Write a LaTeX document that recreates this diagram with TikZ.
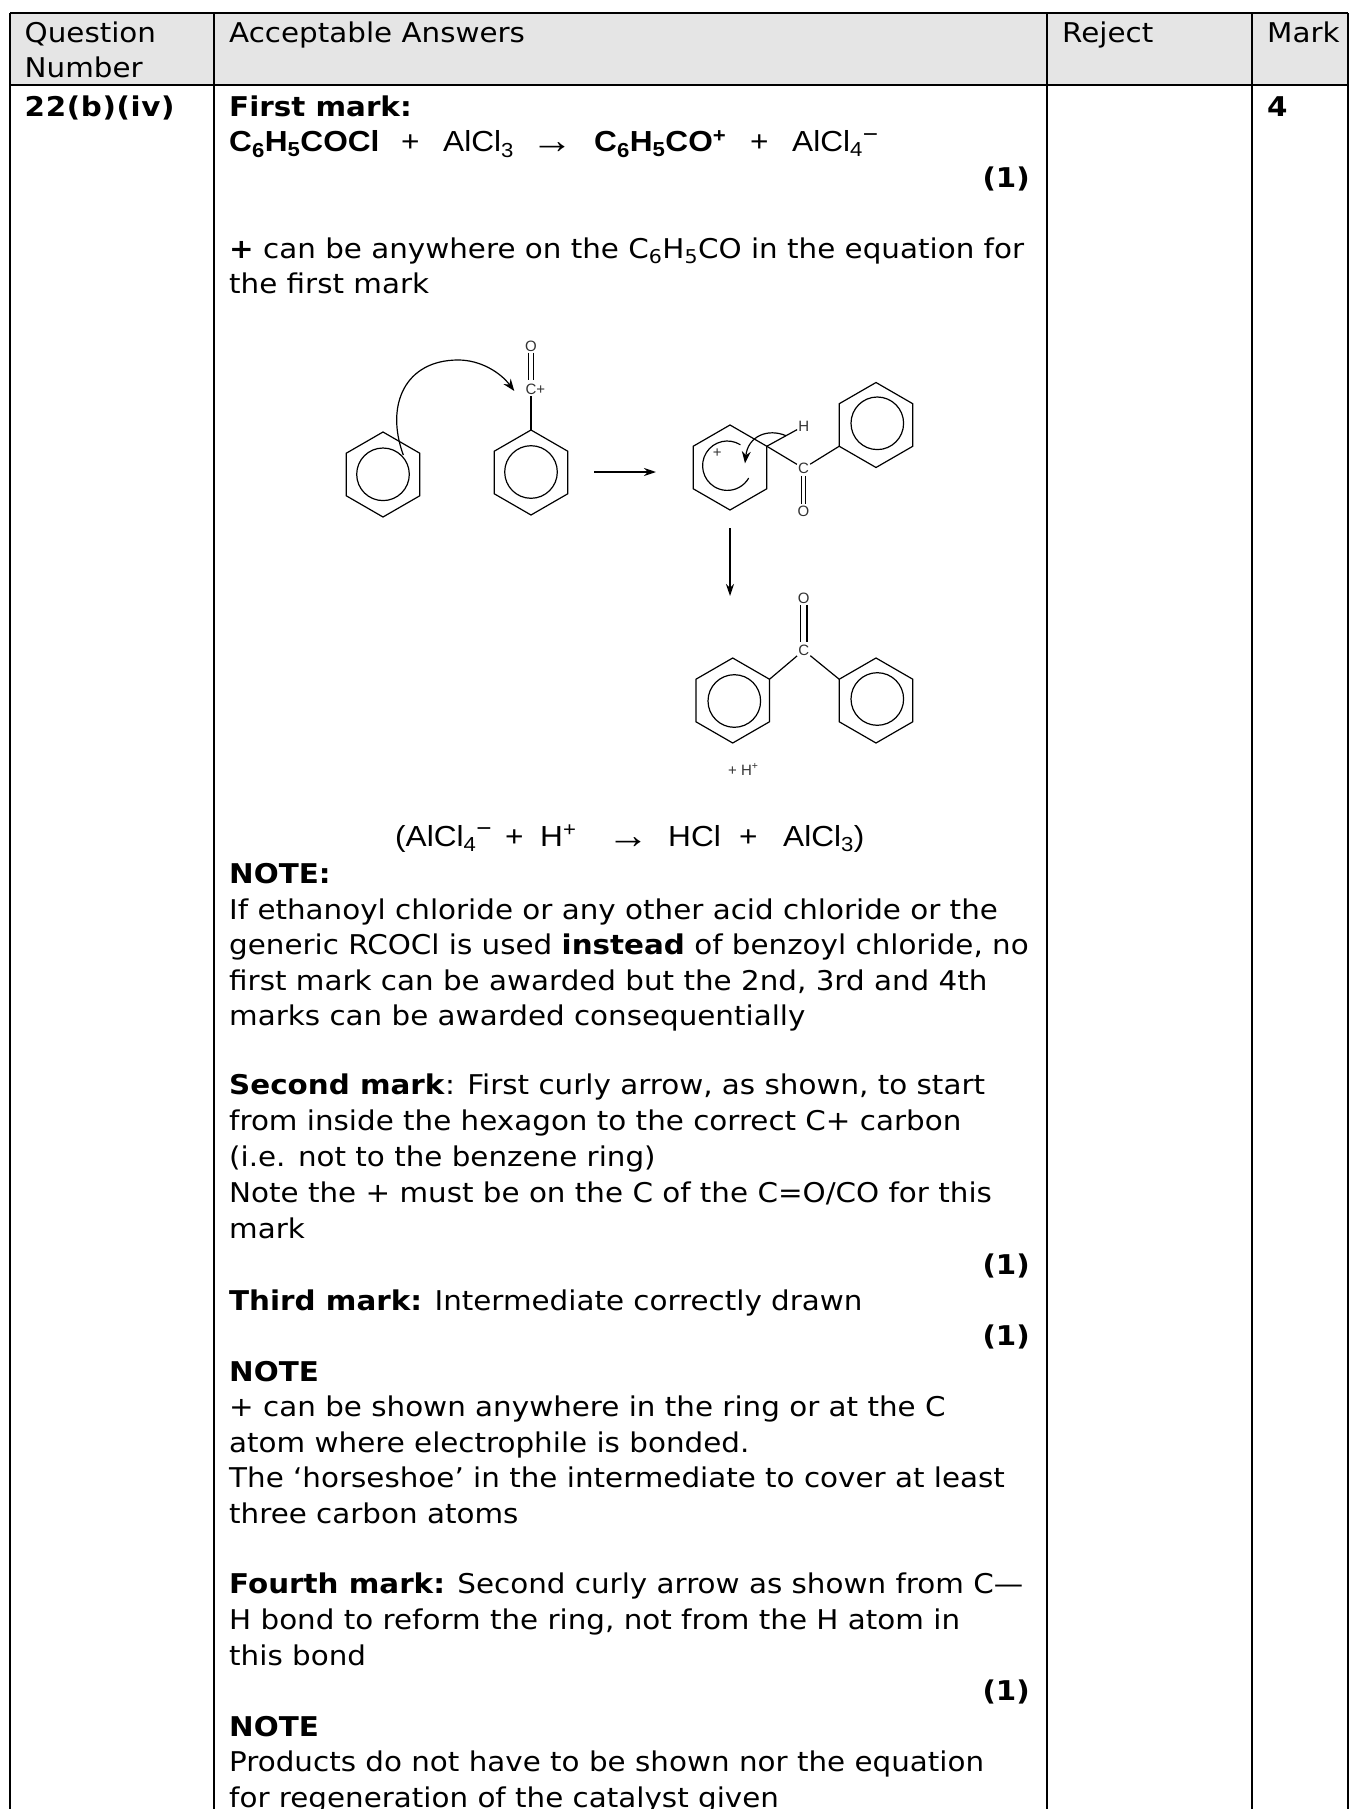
\documentclass[tikz,border=0pt]{standalone}
\usepackage{fontspec}
\setmainfont[FakeStretch=1.08]{DejaVu Sans}
\newfontfamily\arialf[FakeStretch=1.09]{Liberation Sans}
\newfontfamily\labelf{Liberation Sans}
\usetikzlibrary{arrows.meta}
\tikzset{
  txt/.style={anchor=base west,inner sep=0pt,font=\fontsize{27.2}{32}\selectfont},
  txtr/.style={anchor=base east,inner sep=0pt,font=\fontsize{27.2}{32}\selectfont},
  eqn/.style={anchor=base west,inner sep=0pt,font=\fontsize{29}{34}\selectfont\arialf},
  atom/.style={inner sep=1pt,text=black!80,font=\fontsize{15}{17}\selectfont\labelf},
  grid/.style={line width=2pt,black},
  bond/.style={line width=1.2pt,black},
  rxn/.style={line width=1.8pt,black,-{Stealth[length=12pt,width=8pt]}},
  curly/.style={line width=1.2pt,black,-{Stealth[length=12pt,width=9pt]}}
}
\newcommand{\tl}[4]{\node[txt] (#1) at (#2,-#3) {#4};}
\newcommand{\tr}[3]{\node[txtr] (#1) at (1030,-#2) {\textbf{#3}};}
\newcommand{\eq}[4]{\node[eqn] (#1) at (#2,-#3) {#4};}
\newcommand{\arr}{\raisebox{-2pt}{\fontsize{38.5}{40}\selectfont\arialf →}}
\newcommand{\supminus}{\textsuperscript{\fontsize{24}{24}\selectfont −}}
\newcommand{\hexring}[3]{%
  \path (#2,-#3) coordinate (#1)
    +(90:42.5) coordinate (#1T) +(30:42.5) coordinate (#1UR) +(-30:42.5) coordinate (#1LR)
    +(-90:42.5) coordinate (#1B) +(210:42.5) coordinate (#1LL) +(150:42.5) coordinate (#1UL);
  \draw[bond,line join=miter] (#1T) -- (#1UR) -- (#1LR) -- (#1B) -- (#1LL) -- (#1UL) -- cycle;}
\newcommand{\ringcircle}[2]{\draw[bond] (#1,-#2) circle[radius=26.3];}
\begin{document}
\begin{tikzpicture}[x=1pt,y=1pt]
\useasboundingbox (0,0) rectangle (1356,-1809);
% table
\fill[black!10] (10,-13) rectangle (1348,-85);
\clip (0,0) rectangle (1356,-1809);
\coordinate (tl) at (10,-13); \coordinate (tr) at (1348,-13);
\coordinate (hl) at (10,-85); \coordinate (hr) at (1348,-85);
\draw[grid] (tl) -- (tr);
\draw[grid] (hl) -- (hr);
\foreach \x in {10,214,1047,1252,1348} \draw[grid] (\x,-13) -- (\x,-1809);
% header
\tl{h1a}{24.5}{43}{Question}
\tl{h1b}{24.5}{78}{Number}
\tl{h2}{229}{43}{Acceptable Answers}
\tl{h3}{1062}{43}{Reject}
\tl{h4}{1267}{43}{Mark}
% first column
\tl{qn}{24.5}{116.5}{\addfontfeature{LetterSpace=2.3}\textbf{22(b)(iv)}}
\tl{mk}{1267}{116.5}{\textbf{4}}
% answers
\tl{a1}{229}{116.5}{\textbf{First mark:}}
\eq{e1}{229}{151.5}{\textbf{C\textsubscript{6}H\textsubscript{5}COCl}}
\eq{e2}{401}{151.5}{+}
\eq{e3}{443}{151.5}{AlCl\textsubscript{3}}
\eq{e4}{531}{151.5}{\arr}
\eq{e5}{594}{151.5}{\textbf{C\textsubscript{6}H\textsubscript{5}CO\textsuperscript{+}}}
\eq{e6}{750}{151.5}{+}
\eq{e7}{792}{151.5}{AlCl\textsubscript{4}\supminus}
\tr{m1}{187}{(1)}
\tl{a2}{229}{258}{\textbf{+} can be anywhere on the C\textsubscript{6}H\textsubscript{5}CO in the equation for}
\tl{a3}{229}{293.5}{the first mark}
% equation under scheme
\eq{e8a}{395}{846}{(AlCl\textsubscript{4}\supminus}
\eq{e8b}{505}{846}{+}
\eq{e8c}{540}{846}{H\textsuperscript{+}}
\eq{e8d}{607}{846}{\arr}
\eq{e8e}{668}{846}{HCl}
\eq{e8f}{739}{846}{+}
\eq{e8g}{783}{846}{AlCl\textsubscript{3})}
\tl{b0}{229}{883}{\textbf{NOTE:}}
\tl{b1}{229}{919}{If ethanoyl chloride or any other acid chloride or the}
\tl{b2}{229}{954}{generic RCOCl is used \textbf{instead} of benzoyl chloride, no}
\tl{b3}{229}{990}{first mark can be awarded but the 2nd, 3rd and 4th}
\tl{b4}{229}{1025}{marks can be awarded consequentially}
\tl{c1}{229}{1094}{\textbf{Second mark}: First curly arrow, as shown, to start}
\tl{c2}{229}{1130}{from inside the hexagon to the correct C+ carbon}
\tl{c3}{229}{1166}{(i.e. not to the benzene ring)}
\tl{c4}{229}{1202}{Note the + must be on the C of the C=O/CO for this}
\tl{c5}{229}{1238}{mark}
\tr{m2}{1274}{(1)}
\tl{d1}{229}{1310}{\textbf{Third mark:} Intermediate correctly drawn}
\tr{m3}{1345}{(1)}
\tl{d2}{229}{1381}{\textbf{NOTE}}
\tl{d3}{229}{1416}{+ can be shown anywhere in the ring or at the C}
\tl{d4}{229}{1452}{atom where electrophile is bonded.}
\tl{d5}{229}{1487}{The ‘horseshoe’ in the intermediate to cover at least}
\tl{d6}{229}{1523}{three carbon atoms}
\tl{f1}{229}{1593}{\textbf{Fourth mark:} Second curly arrow as shown from C—}
\tl{f2}{229}{1629}{H bond to reform the ring, not from the H atom in}
\tl{f3}{229}{1665}{this bond}
\tr{m4}{1700}{(1)}
\tl{f4}{229}{1736}{\textbf{NOTE}}
\tl{f5}{229}{1771.5}{Products do not have to be shown nor the equation}
\tl{f6}{229}{1807}{for regeneration of the catalyst given}
% scheme: reactants
\hexring{ra}{383}{474.5}\ringcircle{383}{474.3}
\hexring{rb}{531}{472.5}\ringcircle{531}{472}
\node[atom] (cp) at (531,-389.3) {C\rlap{+}};
\node[atom] (op) at (531,-346) {O};
\draw[bond] (rbT) -- (cp);
\draw[bond] ([xshift=-2.3pt]op.south) -- ([xshift=-2.3pt,yshift=3pt]cp.north);
\draw[bond] ([xshift=2.3pt]op.south) -- ([xshift=2.3pt,yshift=3pt]cp.north);
\coordinate (cs) at (403.3,-455);
\coordinate (cm) at (458.3,-360);
\coordinate (ce) at (514.3,-391);
\draw[curly] (cs) .. controls (385,-405) and (405,-360) .. (cm) .. controls (480,-360) and (500,-372) .. (ce);
% reaction arrow 1
\coordinate (ar1a) at (594,-472);
\coordinate (ar1b) at (656,-472);
\draw[rxn] (ar1a) -- (ar1b);
% intermediate
\hexring{rc}{730}{467.5}
\hexring{rd}{876}{425}\ringcircle{877.3}{423.3}
\draw[bond] (727.3,-465.7) ++(58:24.7) arc[start angle=58,end angle=330,radius=24.7];
\node[atom] (pl) at (717.3,-453.3) {+};
\node[atom] (hh) at (803.7,-426) {H};
\node[atom] (ci) at (803.5,-468.3) {C};
\node[atom] (oi) at (803.5,-511) {O};
\draw[bond] (rcUR) -- (hh);
\draw[bond] (rcUR) -- (ci);
\draw[bond] (ci) -- (rdLL);
\draw[bond] ([xshift=-2.3pt,yshift=-1pt]ci.south) -- ([xshift=-2.3pt]oi.north);
\draw[bond] ([xshift=2.3pt,yshift=-1pt]ci.south) -- ([xshift=2.3pt]oi.north);
\coordinate (ds) at (786,-435.7);
\coordinate (de) at (745,-463.3);
\draw[curly] (ds) .. controls (768,-428) and (748,-436) .. (de);
% arrow 2
\coordinate (ar2a) at (730,-528);
\coordinate (ar2b) at (730,-596);
\draw[rxn] (ar2a) -- (ar2b);
% product
\hexring{re}{732.7}{700.5}\ringcircle{734.3}{701}
\hexring{rf}{876}{700.5}\ringcircle{877.3}{699}
\node[atom] (cf) at (803.7,-650.3) {C};
\node[atom] (of) at (803.7,-598.3) {O};
\draw[bond] (cf) -- (reUR);
\draw[bond] (cf) -- (rfUL);
\draw[bond] ([xshift=-3.3pt]of.south) -- ([xshift=-3.3pt,yshift=2pt]cf.north);
\draw[bond] ([xshift=3.3pt]of.south) -- ([xshift=3.3pt,yshift=2pt]cf.north);
\node[atom,anchor=base west,inner sep=0pt] (hplus) at (728,-775) {+ H\textsuperscript{+}};
\end{tikzpicture}
\end{document}
